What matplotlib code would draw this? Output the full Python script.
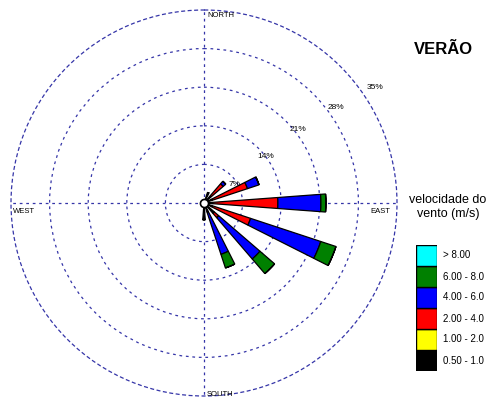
import numpy as np
import matplotlib
matplotlib.use("Agg")
import matplotlib.pyplot as plt

plt.rcParams['font.family'] = ['Liberation Sans', 'DejaVu Sans']

# 16 directions, clockwise from north
directions = ['N', 'NNE', 'NE', 'ENE', 'E', 'ESE', 'SE', 'SSE',
              'S', 'SSW', 'SW', 'WSW', 'W', 'WNW', 'NW', 'NNW']
dir_deg = np.arange(16) * 22.5

# frequency (%) of each speed class per direction
f_050_1 = [0.5, 2.0, 1.5, 1.5, 1.5, 1.5, 2.5, 1.5, 3.0, 0.5, 0.5, 0.5, 0.5, 0.5, 0.5, 0.5]
f_1_2   = [0.0, 0.0, 0.0, 0.0, 0.0, 0.0, 0.0, 0.0, 0.0, 0.0, 0.0, 0.0, 0.0, 0.0, 0.0, 0.0]
f_2_4   = [0.0, 0.0, 3.1, 6.8, 11.9, 7.4, 1.0, 0.3, 0.0, 0.0, 0.0, 0.0, 0.0, 0.0, 0.0, 0.0]
f_4_6   = [0.0, 0.0, 0.6, 2.2, 7.8, 13.4, 9.9, 8.0, 0.0, 0.0, 0.0, 0.0, 0.0, 0.0, 0.0, 0.0]
f_6_8   = [0.0, 0.0, 0.0, 0.0, 0.9, 2.9, 3.5, 2.6, 0.0, 0.0, 0.0, 0.0, 0.0, 0.0, 0.0, 0.0]
f_8     = [0.0, 0.0, 0.0, 0.0, 0.0, 0.0, 0.0, 0.0, 0.0, 0.0, 0.0, 0.0, 0.0, 0.0, 0.0, 0.0]

classes = ['0.50 - 1.0', '1.00 - 2.0', '2.00 - 4.0', '4.00 - 6.0', '6.00 - 8.0', '> 8.00']
colors = ['black', 'yellow', 'red', 'blue', '#008000', 'cyan']
series = [f_050_1, f_1_2, f_2_4, f_4_6, f_6_8, f_8]

rings = [7, 14, 21, 28, 35]
ring_labels = ['7%', '14%', '21%', '28%', '35%']
ring_label_r = [6.4, 14.0, 21.6, 29.5, 37.5]
ring_label_ang = [59, 53, 52, 54, 56]

grid_col = '#3535a8'
dash = (0, (2.2, 3))

fig = plt.figure(figsize=(4.96, 4.03), dpi=100)
ax = fig.add_axes([11 / 496, 7 / 403, 386 / 496, 386 / 403], projection='polar')
ax.set_theta_zero_location('N')
ax.set_theta_direction(-1)
ax.set_ylim(0, 35)

theta = np.radians(dir_deg)
width = np.radians(8.5)
bottom = np.zeros(16)
for vals, col in zip(series, colors):
    vals = np.array(vals)
    ax.bar(theta, vals, width=width, bottom=bottom, color=col,
           edgecolor='black', linewidth=0.9, zorder=3)
    bottom = bottom + vals

ax.scatter([0], [0], s=34, c='white', edgecolors='black', linewidths=1.2, zorder=6)

ax.set_rgrids(rings[:-1], labels=[''] * 4)
ax.set_thetagrids([0, 90, 180, 270], labels=[''] * 4)
ax.grid(True, color=grid_col, linestyle=dash, linewidth=0.9)
ax.set_axisbelow(True)
ax.spines['polar'].set_edgecolor(grid_col)
ax.spines['polar'].set_linestyle(dash)
ax.spines['polar'].set_linewidth(0.9)
ax.set_facecolor('white')

for lab, r, a in zip(ring_labels, ring_label_r, ring_label_ang):
    ax.text(np.radians(a), r, lab, fontsize=6, ha='center', va='center', zorder=7)

ax.text(0.508, 0.987, 'NORTH', transform=ax.transAxes, fontsize=5.5, ha='left', va='center')
ax.text(0.508, 0.005, 'SOUTH', transform=ax.transAxes, fontsize=5.5, ha='left', va='center')
ax.text(0.033, 0.477, 'WEST', transform=ax.transAxes, fontsize=5.5, ha='center', va='center')
ax.text(0.958, 0.477, 'EAST', transform=ax.transAxes, fontsize=5.5, ha='center', va='center')

fig.text(443 / 496, 1 - 49 / 403, 'VERÃO', fontsize=12, fontweight='bold',
         ha='center', va='center')
fig.text(448 / 496, 1 - 207 / 403, 'velocidade do\nvento (m/s)', fontsize=9,
         ha='center', va='center', linespacing=1.25)

# legend boxes
lax = fig.add_axes([416 / 496, 32 / 403, 21 / 496, 126 / 403])
ypos = np.arange(len(classes))
lax.barh(ypos, [1] * len(classes), height=1, color=colors, edgecolor='black', linewidth=1)
lax.set_xlim(0, 1)
lax.set_ylim(-0.5, len(classes) - 0.5)
for y, lab in zip(ypos, classes):
    lax.text(1.3, y, lab, fontsize=7, ha='left', va='center', transform=lax.transData,
             clip_on=False)
lax.axis('off')

fig.savefig('out.png', dpi=100)
